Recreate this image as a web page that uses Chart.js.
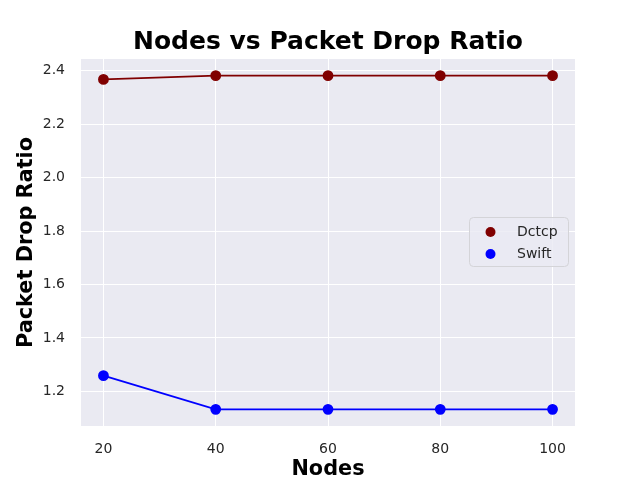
<!DOCTYPE html>
<html>
<head>
<meta charset="utf-8">
<script src="https://cdn.jsdelivr.net/npm/chart.js@4"></script>
<style>
html,body{margin:0;padding:0;background:#fff;}
#wrap{width:640px;height:480px;position:relative;}
</style>
</head>
<body>
<div id="wrap"><canvas id="c" width="640" height="480"></canvas></div>
<script>
const nodes = [20, 40, 60, 80, 100];
const dctcp = [2.367, 2.381, 2.381, 2.381, 2.381];
const swift = [1.259, 1.133, 1.133, 1.133, 1.133];
const xTicks = [20, 40, 60, 80, 100];
const yTicks = [1.2, 1.4, 1.6, 1.8, 2.0, 2.2, 2.4];
const seriesNames = ['Dctcp', 'Swift'];
const seriesColors = ['#800000', '#0000ff'];
const chartTitle = 'Nodes vs Packet Drop Ratio';

const FONT = "'DejaVu Sans', sans-serif";

const bgPlugin = {
  id: 'bg',
  beforeDraw(chart) {
    const {ctx, chartArea: a} = chart;
    ctx.save();
    ctx.fillStyle = '#EAEAF2';
    ctx.fillRect(a.left, a.top, a.right - a.left, a.bottom - a.top);
    ctx.restore();
  }
};

const titlePlugin = {
  id: 'axTitle',
  afterDraw(chart) {
    const {ctx, chartArea: a} = chart;
    ctx.save();
    ctx.fillStyle = '#000';
    ctx.font = 'bold 25px ' + FONT;
    ctx.textAlign = 'center';
    ctx.textBaseline = 'alphabetic';
    ctx.fillText(chartTitle, (a.left + a.right) / 2, 49);
    ctx.restore();
  }
};

const legendPlugin = {
  id: 'boxLegend',
  afterDraw(chart) {
    const {ctx} = chart;
    const x = 469.5, y = 217.5, w = 99, h = 49, r = 4;
    ctx.save();
    ctx.beginPath();
    ctx.moveTo(x + r, y);
    ctx.arcTo(x + w, y, x + w, y + h, r);
    ctx.arcTo(x + w, y + h, x, y + h, r);
    ctx.arcTo(x, y + h, x, y, r);
    ctx.arcTo(x, y, x + w, y, r);
    ctx.closePath();
    ctx.fillStyle = 'rgba(234,234,242,0.8)';
    ctx.fill();
    ctx.strokeStyle = '#d4d4d8';
    ctx.lineWidth = 1;
    ctx.stroke();
    chart.data.datasets.forEach((ds, i) => {
      const cy = 232 + i * 22;
      ctx.beginPath();
      ctx.arc(490.5, cy, 5, 0, Math.PI * 2);
      ctx.fillStyle = ds.pointBackgroundColor;
      ctx.fill();
      ctx.fillStyle = '#262626';
      ctx.font = '14px ' + FONT;
      ctx.textBaseline = 'middle';
      ctx.textAlign = 'left';
      ctx.fillText(ds.label, 517, cy);
    });
    ctx.restore();
  }
};

new Chart(document.getElementById('c'), {
  type: 'line',
  data: {
    datasets: [
      {
        label: seriesNames[0],
        data: nodes.map((n, i) => ({x: n, y: dctcp[i]})),
        borderColor: seriesColors[0],
        backgroundColor: seriesColors[0],
        pointBackgroundColor: seriesColors[0],
        pointBorderColor: seriesColors[0],
        pointRadius: 4.5,
        borderWidth: 1.8,
        tension: 0
      },
      {
        label: seriesNames[1],
        data: nodes.map((n, i) => ({x: n, y: swift[i]})),
        borderColor: seriesColors[1],
        backgroundColor: seriesColors[1],
        pointBackgroundColor: seriesColors[1],
        pointBorderColor: seriesColors[1],
        pointRadius: 4.5,
        borderWidth: 1.8,
        tension: 0
      }
    ]
  },
  options: {
    responsive: false,
    animation: false,
    devicePixelRatio: 1,
    layout: {padding: {left: 0, right: 65, top: 59, bottom: 0}},
    plugins: {
      legend: {display: false},
      tooltip: {enabled: false},
      title: {display: false}
    },
    scales: {
      x: {
        type: 'linear',
        min: 16,
        max: 104,
        afterBuildTicks: s => { s.ticks = xTicks.map(v => ({value: v})); },
        afterFit: s => { s.height = 54; },
        border: {display: false},
        grid: {color: '#ffffff', lineWidth: 1, drawTicks: false},
        ticks: {color: '#262626', font: {family: FONT, size: 14}, padding: 15, maxRotation: 0},
        title: {display: true, text: 'Nodes', color: '#000',
          font: {family: FONT, size: 20.8, weight: 'bold', lineHeight: 1.2},
          padding: {top: 0, bottom: -2}}
      },
      y: {
        type: 'linear',
        min: 1.0706,
        max: 2.4434,
        afterBuildTicks: s => { s.ticks = yTicks.map(v => ({value: v})); },
        afterFit: s => { s.width = 81; },
        border: {display: false},
        grid: {color: '#ffffff', lineWidth: 1, drawTicks: false},
        ticks: {color: '#262626', font: {family: FONT, size: 14}, padding: 16,
          callback: v => Number(v).toFixed(1)},
        title: {display: true, text: 'Packet Drop Ratio', color: '#000',
          font: {family: FONT, size: 20.8, weight: 'bold', lineHeight: 1.2},
          padding: {top: 14, bottom: 0}}
      }
    }
  },
  plugins: [bgPlugin, titlePlugin, legendPlugin]
});
</script>
</body>
</html>
